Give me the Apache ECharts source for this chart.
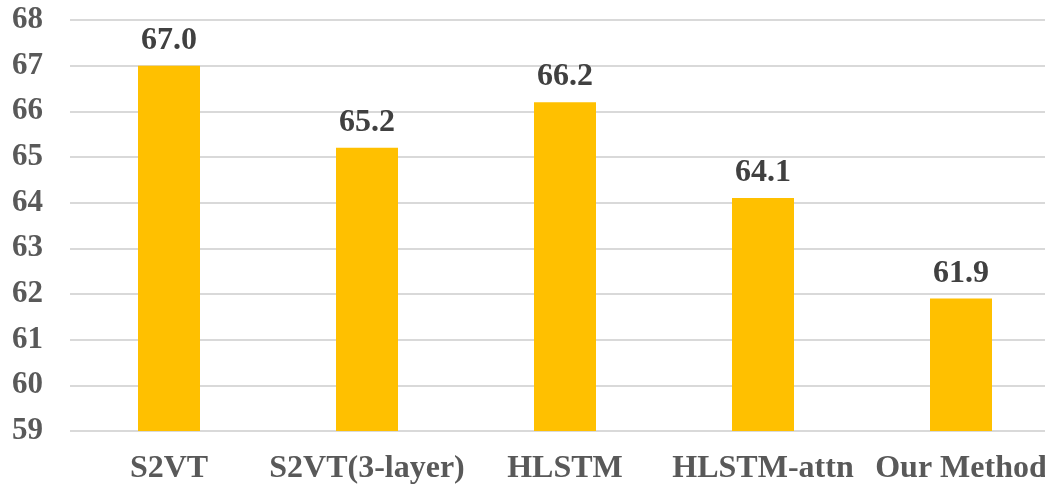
<!DOCTYPE html>
<html>
<head>
<meta charset="utf-8">
<script src="https://cdn.jsdelivr.net/npm/echarts@6/dist/echarts.min.js"></script>
<style>
  html, body { margin: 0; padding: 0; background: #fff; }
  #chart { width: 1045px; height: 484px; }
</style>
</head>
<body>
<div id="chart"></div>
<script>
const categories = ['S2VT', 'S2VT(3-layer)', 'HLSTM', 'HLSTM-attn', 'Our Method'];
const scores = [67.0, 65.2, 66.2, 64.1, 61.9];
const yMin = 59, yMax = 68, yStep = 1;

const font = '"Liberation Serif", "Times New Roman", serif';
const chart = echarts.init(document.getElementById('chart'));
chart.setOption({
  animation: false,
  grid: { left: 70, top: 20, bottom: 53, width: 990, containLabel: false, outerBoundsMode: 'none' },
  xAxis: {
    type: 'category',
    data: categories,
    axisTick: { show: false },
    axisLine: { show: false },
    axisLabel: {
      margin: 22,
      fontFamily: font,
      fontWeight: 'bold',
      fontSize: 32,
      color: '#595959',
      interval: 0
    }
  },
  yAxis: {
    type: 'value',
    min: yMin,
    max: yMax,
    interval: yStep,
    axisLine: { show: false },
    axisTick: { show: false },
    splitLine: { lineStyle: { color: '#d9d9d9', width: 2 } },
    axisLabel: {
      margin: 27,
      fontFamily: font,
      fontWeight: 'bold',
      fontSize: 31,
      color: '#595959'
    }
  },
  series: [{
    type: 'bar',
    data: scores,
    barWidth: 62,
    itemStyle: { color: '#FFC000' },
    label: {
      show: true,
      position: 'top',
      distance: 9,
      formatter: (p) => p.value.toFixed(1),
      fontFamily: font,
      fontWeight: 'bold',
      fontSize: 32,
      color: '#404040'
    }
  }]
});
</script>
</body>
</html>
